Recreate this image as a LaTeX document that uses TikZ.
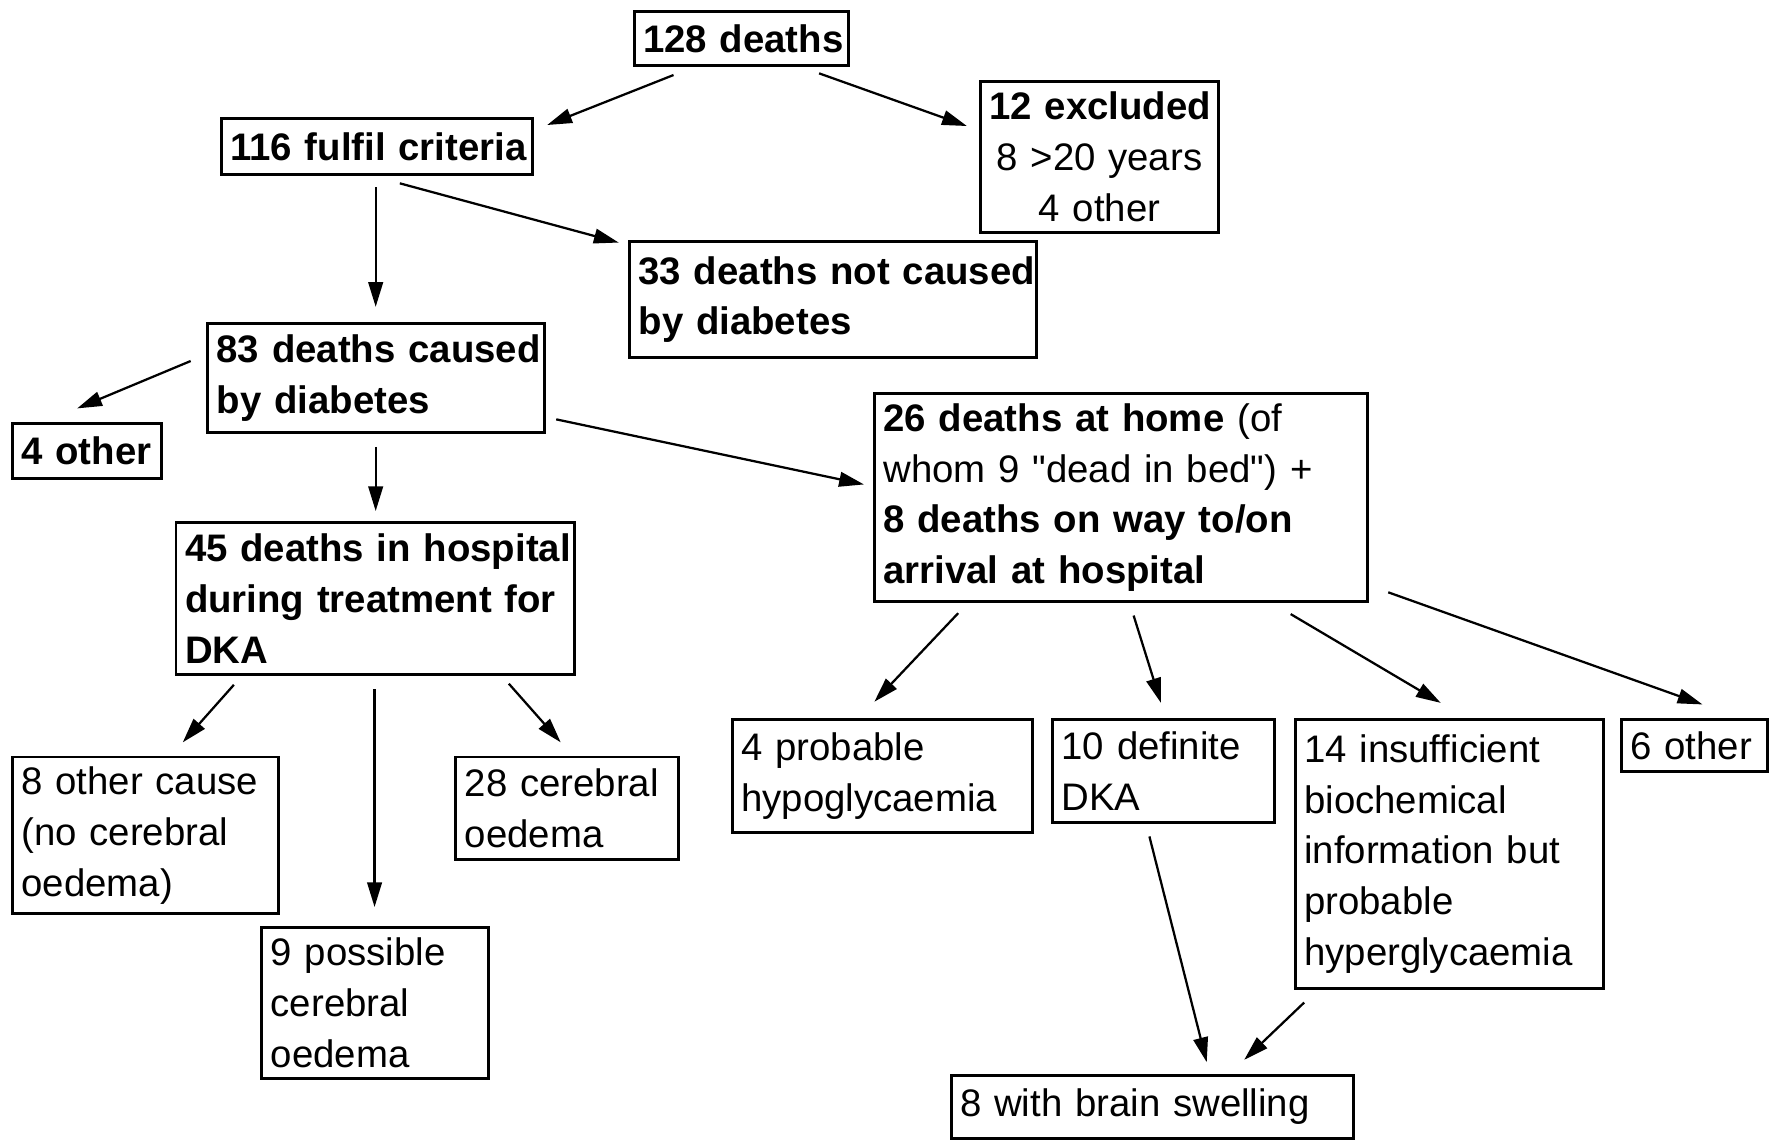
\documentclass[tikz,border=0pt]{standalone}
\usepackage{fontspec}
\setmainfont{Liberation Sans}[Ligatures=TeXOff]
\usetikzlibrary{arrows.meta}
\begin{document}
\begin{tikzpicture}[x=1pt,y=-1pt,
  box/.style={draw, line width=2.6pt, inner xsep=8pt, inner ysep=0pt,
    font=\fontsize{34}{45}\selectfont, align=left},
  cbox/.style={box, align=center},
  arr/.style={line width=2pt, -{Triangle[length=22pt,width=13pt]}}]
\useasboundingbox (0,0) rectangle (1568,1012);
\fill[white] (0,0) rectangle (1568,1012);
% nodes
\node[cbox, text width=174pt, minimum height=48pt] (n128) at (657,34) {\mbox{\textbf{128 deaths}}};
\node[cbox, text width=260pt, minimum height=50pt] (n116) at (334,130) {\mbox{\textbf{116 fulfil criteria}}};
\node[cbox, text width=195pt, minimum height=134pt] (nexc) at (974.5,139) {\mbox{\textbf{12 excluded}}\\\mbox{8 >20 years}\\\mbox{4 other}};
\node[box, text width=345pt, minimum height=103pt] (n33) at (738.5,265.5) {\mbox{\textbf{33 deaths not caused}}\\\mbox{\textbf{by diabetes}}};
\node[box, text width=283pt, minimum height=96pt] (n83) at (333.5,335) {\mbox{\textbf{83 deaths caused}}\\\mbox{\textbf{by diabetes}}};
\node[box, text width=116pt, minimum height=49pt] (n4o) at (77,399.5) {\mbox{\textbf{4 other}}};
\node[box, text width=421pt, minimum height=184pt] (n26) at (993.5,441) {\mbox{\textbf{26 deaths at home} (of}\\\mbox{whom 9 "dead in bed") +}\\\mbox{\textbf{8 deaths on way to/on}}\\\mbox{\textbf{arrival at hospital}}};
\node[box, text width=337pt, minimum height=135pt] (n45) at (332.5,530.5) {\mbox{\textbf{45 deaths in hospital}}\\\mbox{\textbf{during treatment for}}\\\mbox{\textbf{DKA}}};
\node[box, text width=220pt, minimum height=139pt] (n8o) at (129,740.5) {\mbox{8 other cause}\\\mbox{(no cerebral}\\\mbox{oedema)}};
\node[box, text width=181pt, minimum height=91pt] (n28) at (502.5,716.5) {\mbox{28 cerebral}\\\mbox{oedema}};
\node[box, text width=185pt, minimum height=134pt] (n9) at (332.5,889) {\mbox{9 possible}\\\mbox{cerebral}\\\mbox{oedema}};
\node[box, text width=250pt, minimum height=100pt] (n4p) at (782,688) {\mbox{4 probable}\\\mbox{hypoglycaemia}};
\node[box, text width=181pt, minimum height=91pt] (n10) at (1031.5,683.5) {\mbox{10 definite}\\\mbox{DKA}};
\node[box, text width=257pt, minimum height=238pt] (n14) at (1284.5,757) {\mbox{14 insufficient}\\\mbox{biochemical}\\\mbox{information but}\\\mbox{probable}\\\mbox{hyperglycaemia}};
\node[box, text width=114pt, minimum height=46pt] (n6) at (1502,661) {\mbox{6 other}};
\node[box, text width=341pt, minimum height=56pt] (n8b) at (1021.5,981) {\mbox{8 with brain swelling}};
% connectors
\draw[arr] ([shift={(-60,32.5)}]n128.center) -- ([shift={(151,-19.2)}]n116.center);
\draw[arr] ([shift={(69,31)}]n128.center) -- ([shift={(-117.5,-27.3)}]nexc.center);
\draw[arr] ([shift={(-1,36)}]n116.center) -- ([shift={(-0.5,-63)}]n83.center);
\draw[arr] ([shift={(20.4,32.5)}]n116.center) -- ([shift={(-190.1,-50.5)}]n33.center);
\draw[arr] ([shift={(-164.5,-15)}]n83.center) -- ([shift={(-8.6,-37.5)}]n4o.center);
\draw[arr] ([shift={(-0.5,61)}]n83.center) -- ([shift={(0.5,-77.5)}]n45.center);
\draw[arr] ([shift={(159.5,36.7)}]n83.center) -- ([shift={(-227.7,-11.6)}]n26.center);
\draw[arr] ([shift={(-125.2,76.5)}]n45.center) -- ([shift={(33,-82.5)}]n8o.center);
\draw[arr] ([shift={(-0.5,80.5)}]n45.center) -- ([shift={(-0.5,-85)}]n9.center);
\draw[arr] ([shift={(118.5,75.5)}]n45.center) -- ([shift={(-5.5,-58.5)}]n28.center);
\draw[arr] ([shift={(-144.2,102.5)}]n26.center) -- ([shift={(-7,-66)}]n4p.center);
\draw[arr] ([shift={(11.3,104.6)}]n26.center) -- ([shift={(-2.5,-60.5)}]n10.center);
\draw[arr] ([shift={(150.5,103.3)}]n26.center) -- ([shift={(-7.5,-134)}]n14.center);
\draw[arr] ([shift={(237,84)}]n26.center) -- ([shift={(7,-36.6)}]n6.center);
\draw[arr] ([shift={(-12.7,57.9)}]n10.center) -- ([shift={(48.1,-39.5)}]n8b.center);
\draw[arr] ([shift={(-128.5,131.6)}]n14.center) -- ([shift={(81.3,-41.6)}]n8b.center);
\end{tikzpicture}
\end{document}
